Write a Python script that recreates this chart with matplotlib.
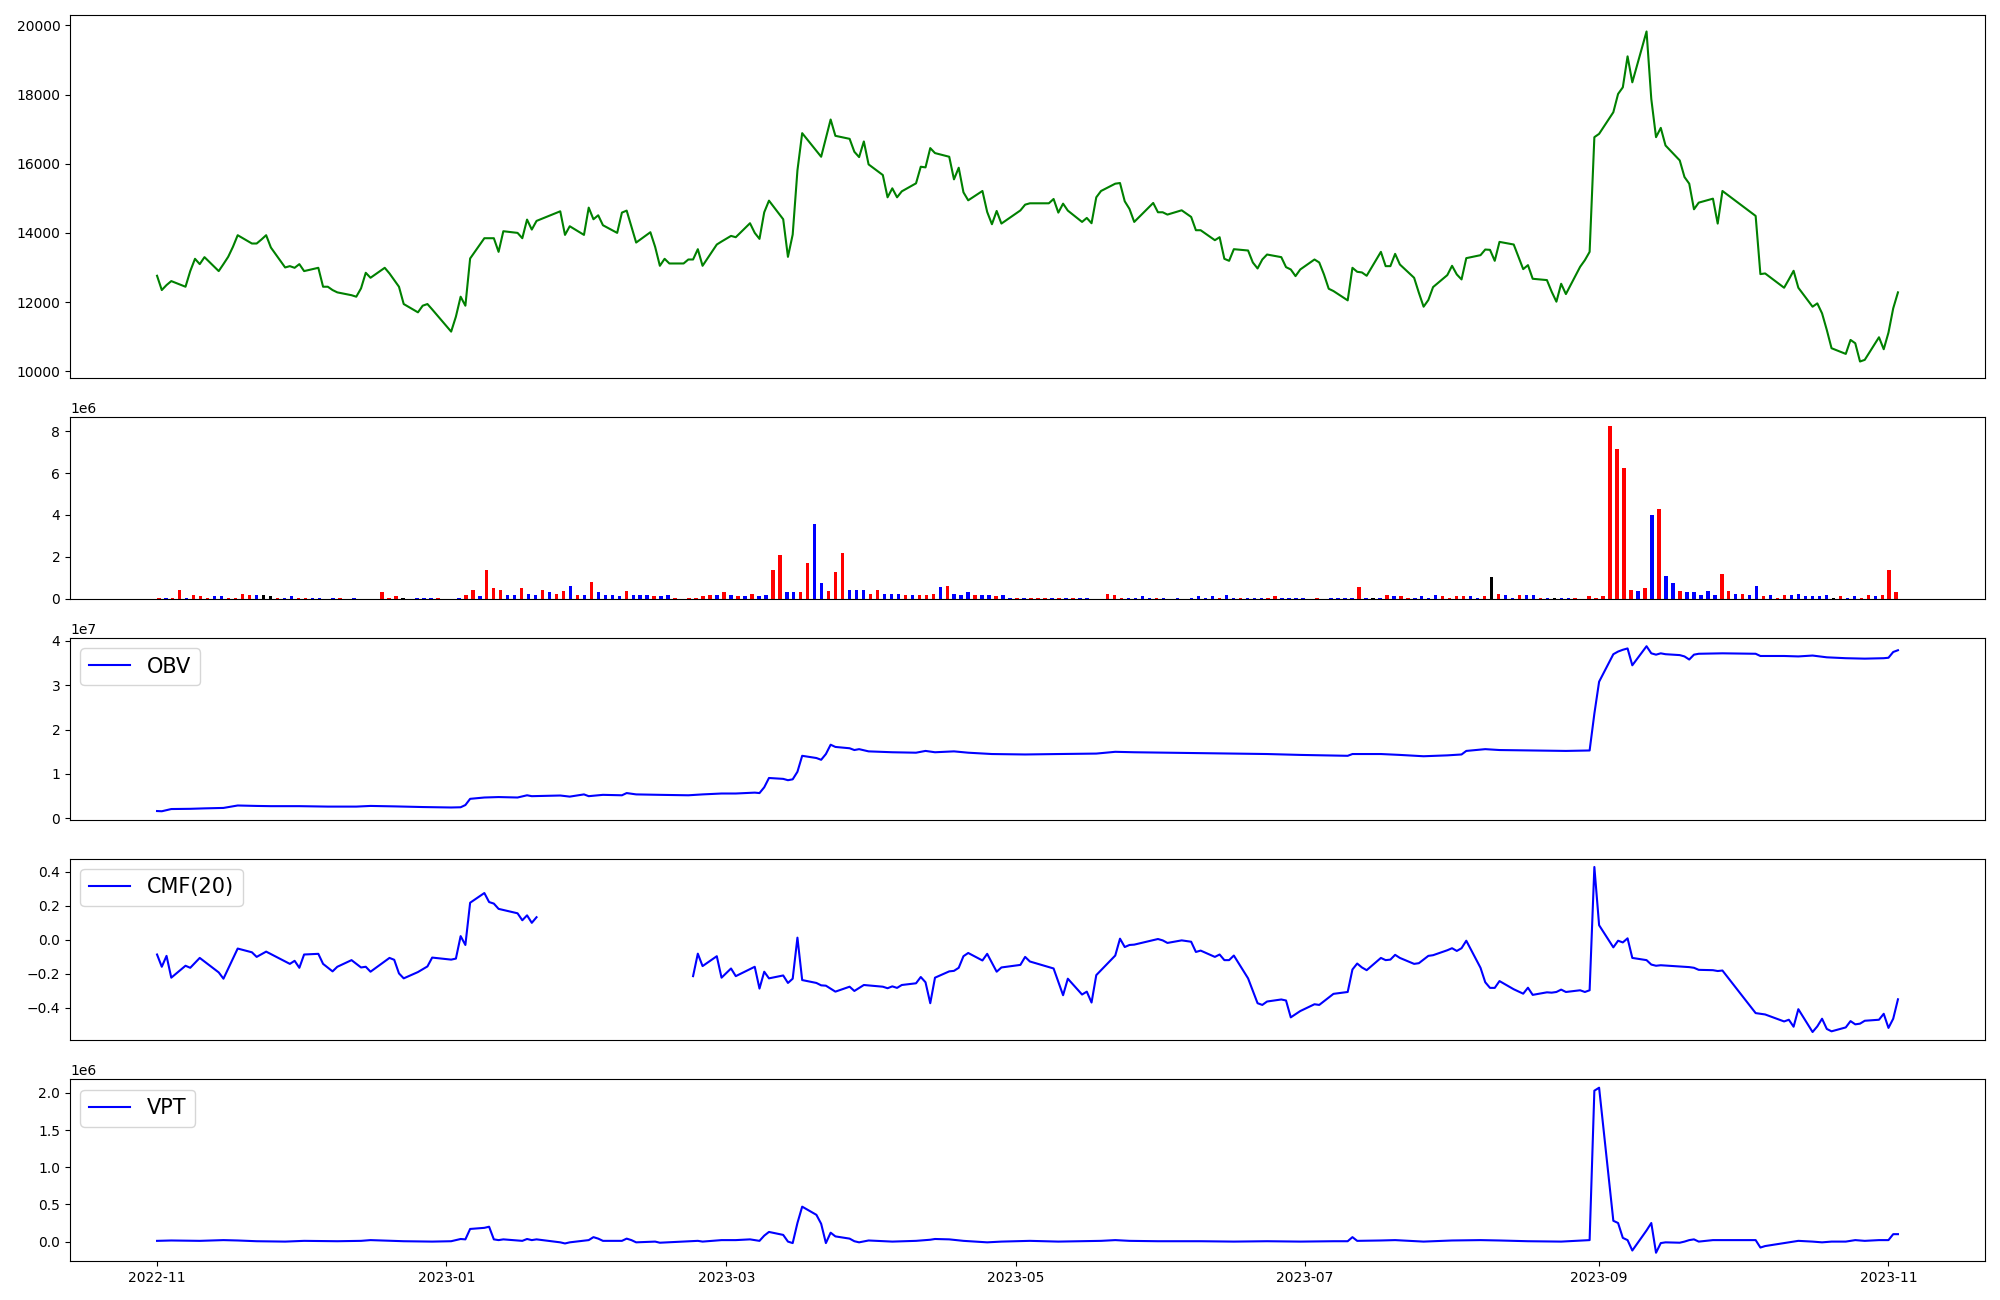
import numpy as np
import pandas as pd
import matplotlib
matplotlib.use("Agg")
import matplotlib.pyplot as plt
import matplotlib.dates as mdates

# Trading calendar: weekdays minus exchange holidays
holidays = ["2022-12-30", "2023-01-23", "2023-01-24", "2023-03-01", "2023-05-01",
            "2023-05-05", "2023-05-29", "2023-06-06", "2023-08-15", "2023-09-28",
            "2023-09-29", "2023-10-02", "2023-10-03", "2023-10-09"]
dates = pd.bdate_range("2022-11-01", "2023-11-03")
dates = dates[~dates.isin(pd.to_datetime(holidays))]

# Close price, one value per trading day
close = [
    # Nov 2022
    12762, 12349, 12493, 12608, 12445, 12897, 13252, 13098, 13300, 12897, 13100,
    13310, 13598, 13934, 13694, 13694, 13809, 13934, 13578, 13002, 13040, 12992,
    # Dec
    13098, 12897, 12992, 12445, 12445, 12349, 12282, 12200, 12157, 12397, 12848,
    12704, 12992, 12829, 12637, 12445, 11945, 11705, 11897, 11945, 11790,
    # Jan 2023
    11148, 11580, 12157, 11897, 13261, 13847, 13847, 13847, 13453, 14049,
    14001, 13847, 14385, 14097, 14347, 14625, 13943, 14193, 13943, 14731,
    # Feb
    14395, 14510, 14222, 14001, 14587, 14645, 14183, 13722, 14020, 13598,
    13050, 13252, 13117, 13117, 13232, 13232, 13530, 13050, 13665, 13751,
    # Mar
    13914, 13876, 14280, 14001, 13828, 14596, 14933, 14395, 13309, 13953, 15807,
    16883, 16374, 16201, 16739, 17277, 16806, 16719, 16345, 16191, 16643, 15980,
    # Apr
    15673, 15029, 15289, 15029, 15202, 15433, 15913, 15894, 16451, 16307,
    16201, 15548, 15884, 15173, 14942, 15212, 14606, 14251, 14635, 14270,
    # May
    14650, 14817, 14856, 14856, 14981, 14587, 14846, 14645, 14318, 14433,
    14280, 15029, 15212, 15423, 15442, 14914, 14693, 14318, 14866, 14597,
    # Jun
    14597, 14530, 14654, 14462, 14078, 14078, 13790, 13876, 13252, 13194, 13530,
    13492, 13146, 12973, 13232, 13376, 13300, 13011, 12944, 12752, 12944,
    # Jul
    13232, 13146, 12800, 12387, 12320, 12051, 12992, 12877, 12858, 12762, 13453,
    13040, 13040, 13395, 13088, 12704, 12272, 11868, 12061, 12435, 12781,
    # Aug
    13050, 12800, 12656, 13271, 13357, 13520, 13511, 13194, 13741, 13665, 12954,
    13069, 12675, 12637, 12301, 12013, 12531, 12233, 13021, 13213, 13453, 16767,
    # Sep
    16863, 17488, 18016, 18208, 19102, 18352, 19822, 17872, 16767, 17036,
    16527, 16095, 15615, 15423, 14683, 14875, 14990, 14270, 15212,
    # Oct
    14491, 12810, 12829, 12416, 12656, 12906, 12416, 11868, 11964, 11676,
    11196, 10668, 10504, 10908, 10812, 10284, 10332, 10985, 10639,
    # Nov
    11119, 11820, 12282,
]

# Volume in millions of shares, one bar per trading day
volume_m = [
    0.05, 0.05, 0.05, 0.44, 0.05, 0.16, 0.11, 0.06, 0.11, 0.11,
    0.06, 0.06, 0.25, 0.20, 0.16, 0.16, 0.11, 0.06, 0.06, 0.11,
    0.06, 0.06, 0.06, 0.06, 0.01, 0.06, 0.06, 0.01, 0.06, 0.01,
    0.01, 0.01, 0.30, 0.06, 0.11, 0.06, 0.01, 0.06, 0.06, 0.06,
    0.06, 0.01, 0.01, 0.06, 0.16, 0.40, 0.11, 1.35, 0.49, 0.40,
    0.16, 0.16, 0.49, 0.25, 0.16, 0.44, 0.30, 0.25, 0.35, 0.59,
    0.16, 0.16, 0.78, 0.30, 0.16, 0.16, 0.11, 0.35, 0.20, 0.16,
    0.16, 0.11, 0.11, 0.16, 0.06, 0.01, 0.06, 0.06, 0.11, 0.16,
    0.16, 0.30, 0.16, 0.11, 0.11, 0.25, 0.11, 0.16, 1.35, 2.11,
    0.30, 0.30, 0.30, 1.73, 3.59, 0.73, 0.35, 1.30, 2.16, 0.44,
    0.44, 0.40, 0.25, 0.40, 0.25, 0.25, 0.25, 0.16, 0.20, 0.20,
    0.20, 0.25, 0.54, 0.59, 0.25, 0.20, 0.30, 0.20, 0.16, 0.16,
    0.11, 0.16, 0.06, 0.06, 0.06, 0.06, 0.06, 0.06, 0.06, 0.06,
    0.06, 0.06, 0.06, 0.06, 0.01, 0.01, 0.25, 0.16, 0.06, 0.06,
    0.06, 0.11, 0.06, 0.06, 0.06, 0.01, 0.06, 0.01, 0.06, 0.11,
    0.06, 0.11, 0.06, 0.16, 0.06, 0.06, 0.06, 0.06, 0.06, 0.06,
    0.11, 0.06, 0.06, 0.06, 0.06, 0.01, 0.06, 0.01, 0.06, 0.06,
    0.06, 0.06, 0.54, 0.06, 0.06, 0.06, 0.16, 0.11, 0.11, 0.06,
    0.06, 0.11, 0.06, 0.16, 0.11, 0.06, 0.11, 0.11, 0.11, 0.06,
    0.11, 1.02, 0.25, 0.16, 0.06, 0.20, 0.20, 0.16, 0.06, 0.06,
    0.06, 0.06, 0.06, 0.06, 0.01, 0.11, 0.06, 0.11, 8.25, 7.16,
    6.25, 0.40, 0.35, 0.49, 4.02, 4.30, 1.11, 0.73, 0.35, 0.30,
    0.30, 0.20, 0.35, 0.20, 1.16, 0.35, 0.25, 0.25, 0.16, 0.59,
    0.11, 0.16, 0.06, 0.16, 0.16, 0.25, 0.11, 0.11, 0.11, 0.16,
    0.06, 0.11, 0.06, 0.11, 0.06, 0.16, 0.11, 0.16, 1.35, 0.30,
]

# Candle direction per day (10 days per chunk): u = up, d = down, f = flat
candle_chunks = [
    "uduuduuudd", "uuuudffudd", "uuddududdu", "duuuufdddd", "uudduuduuu",
    "ddudduduud", "ududdddudd", "dudduduuuu", "dudududduu", "dduudduuud",
    "dduudddudu", "uududddudd", "udduduuudu", "dudduduuud", "dddudududd",
    "dduddudddu", "udddduuddd", "ddudfduduu", "dddduuuudd", "ufudduddud",
    "fdduuuuuuu", "uudududdud", "dddduududd", "uduudddddd", "fudduuduuu",
]
candle = "".join(candle_chunks)

# On-balance volume (x 1e7)
obv_dates = ["2022-11-01", "2022-11-02", "2022-11-04", "2022-11-08", "2022-11-11", "2022-11-15",
             "2022-11-18", "2022-11-22", "2022-11-25", "2022-12-01", "2022-12-07", "2022-12-13",
             "2022-12-16", "2022-12-21", "2022-12-27", "2023-01-02", "2023-01-04", "2023-01-05",
             "2023-01-06", "2023-01-09", "2023-01-12", "2023-01-16", "2023-01-18", "2023-01-19",
             "2023-01-25", "2023-01-27", "2023-01-30", "2023-01-31", "2023-02-03", "2023-02-07",
             "2023-02-08", "2023-02-10", "2023-02-15", "2023-02-21", "2023-02-24", "2023-02-28",
             "2023-03-03", "2023-03-07", "2023-03-08", "2023-03-09", "2023-03-10", "2023-03-13",
             "2023-03-14", "2023-03-15", "2023-03-16", "2023-03-17", "2023-03-20", "2023-03-21",
             "2023-03-22", "2023-03-23", "2023-03-24", "2023-03-27", "2023-03-28", "2023-03-29",
             "2023-03-31", "2023-04-05", "2023-04-10", "2023-04-12", "2023-04-14", "2023-04-18",
             "2023-04-21", "2023-04-26", "2023-05-03", "2023-05-10", "2023-05-18", "2023-05-22",
             "2023-05-26", "2023-06-02", "2023-06-09", "2023-06-16", "2023-06-23", "2023-06-30",
             "2023-07-10", "2023-07-11", "2023-07-17", "2023-07-21", "2023-07-26", "2023-07-31",
             "2023-08-03", "2023-08-04", "2023-08-08", "2023-08-11", "2023-08-18", "2023-08-25",
             "2023-08-30", "2023-08-31", "2023-09-01", "2023-09-04", "2023-09-05", "2023-09-06",
             "2023-09-07", "2023-09-08", "2023-09-11", "2023-09-12", "2023-09-13", "2023-09-14",
             "2023-09-15", "2023-09-18", "2023-09-19", "2023-09-20", "2023-09-21", "2023-09-22",
             "2023-09-27", "2023-10-04", "2023-10-05", "2023-10-10", "2023-10-13", "2023-10-16",
             "2023-10-19", "2023-10-23", "2023-10-27", "2023-10-31", "2023-11-01", "2023-11-02",
             "2023-11-03"]
obv_e7 = [0.165, 0.160, 0.210, 0.215, 0.225, 0.235,
          0.290, 0.280, 0.275, 0.275, 0.265, 0.265,
          0.280, 0.270, 0.255, 0.245, 0.250, 0.300,
          0.440, 0.470, 0.480, 0.470, 0.520, 0.500,
          0.515, 0.490, 0.540, 0.500, 0.530, 0.520,
          0.570, 0.540, 0.530, 0.520, 0.540, 0.560,
          0.560, 0.580, 0.570, 0.700, 0.910, 0.890,
          0.860, 0.880, 1.050, 1.410, 1.360, 1.320,
          1.450, 1.660, 1.610, 1.580, 1.540, 1.560,
          1.510, 1.490, 1.480, 1.520, 1.490, 1.510,
          1.480, 1.450, 1.440, 1.450, 1.460, 1.500,
          1.490, 1.480, 1.470, 1.460, 1.450, 1.430,
          1.410, 1.450, 1.450, 1.430, 1.400, 1.420,
          1.440, 1.520, 1.560, 1.540, 1.530, 1.520,
          1.530, 2.360, 3.080, 3.700, 3.760, 3.800,
          3.830, 3.450, 3.880, 3.720, 3.690, 3.720,
          3.700, 3.680, 3.650, 3.580, 3.690, 3.710,
          3.720, 3.710, 3.660, 3.660, 3.650, 3.670,
          3.630, 3.610, 3.600, 3.610, 3.620, 3.750,
          3.790]

# Chaikin money flow (20); NaN marks the gap in the series
cmf_dates = ["2022-11-01", "2022-11-02", "2022-11-03", "2022-11-04", "2022-11-07", "2022-11-08",
             "2022-11-10", "2022-11-14", "2022-11-15", "2022-11-18", "2022-11-21", "2022-11-22",
             "2022-11-24", "2022-11-29", "2022-11-30", "2022-12-01", "2022-12-02", "2022-12-05",
             "2022-12-06", "2022-12-08", "2022-12-09", "2022-12-12", "2022-12-14", "2022-12-15",
             "2022-12-16", "2022-12-20", "2022-12-21", "2022-12-22", "2022-12-23", "2022-12-26",
             "2022-12-28", "2022-12-29", "2023-01-02", "2023-01-03", "2023-01-04", "2023-01-05",
             "2023-01-06", "2023-01-09", "2023-01-10", "2023-01-11", "2023-01-12", "2023-01-16",
             "2023-01-17", "2023-01-18", "2023-01-19", "2023-01-20", "2023-01-25",
             "2023-02-22", "2023-02-23", "2023-02-24", "2023-02-27", "2023-02-28", "2023-03-02",
             "2023-03-03", "2023-03-07", "2023-03-08", "2023-03-09", "2023-03-10", "2023-03-13",
             "2023-03-14", "2023-03-15", "2023-03-16", "2023-03-17", "2023-03-20", "2023-03-21",
             "2023-03-22", "2023-03-24", "2023-03-27", "2023-03-28", "2023-03-30", "2023-04-03",
             "2023-04-04", "2023-04-05", "2023-04-06", "2023-04-07", "2023-04-10", "2023-04-11",
             "2023-04-12", "2023-04-13", "2023-04-14", "2023-04-17", "2023-04-18", "2023-04-19",
             "2023-04-20", "2023-04-21", "2023-04-24", "2023-04-25", "2023-04-27", "2023-04-28",
             "2023-05-02", "2023-05-03", "2023-05-04", "2023-05-09", "2023-05-11", "2023-05-12",
             "2023-05-15", "2023-05-16", "2023-05-17", "2023-05-18", "2023-05-22", "2023-05-23",
             "2023-05-24", "2023-05-25", "2023-05-26", "2023-05-31", "2023-06-01", "2023-06-02",
             "2023-06-05", "2023-06-07", "2023-06-08", "2023-06-09", "2023-06-12", "2023-06-13",
             "2023-06-14", "2023-06-15", "2023-06-16", "2023-06-19", "2023-06-21", "2023-06-22",
             "2023-06-23", "2023-06-26", "2023-06-27", "2023-06-28", "2023-06-30", "2023-07-03",
             "2023-07-04", "2023-07-07", "2023-07-10", "2023-07-11", "2023-07-12", "2023-07-13",
             "2023-07-14", "2023-07-17", "2023-07-18", "2023-07-19", "2023-07-20", "2023-07-21",
             "2023-07-24", "2023-07-25", "2023-07-27", "2023-07-28", "2023-07-31", "2023-08-01",
             "2023-08-02", "2023-08-03", "2023-08-04", "2023-08-07", "2023-08-08", "2023-08-09",
             "2023-08-10", "2023-08-11", "2023-08-14", "2023-08-16", "2023-08-17", "2023-08-18",
             "2023-08-21", "2023-08-22", "2023-08-23", "2023-08-24", "2023-08-25", "2023-08-28",
             "2023-08-29", "2023-08-30", "2023-08-31", "2023-09-01", "2023-09-04", "2023-09-05",
             "2023-09-06", "2023-09-07", "2023-09-08", "2023-09-11", "2023-09-12", "2023-09-13",
             "2023-09-14", "2023-09-20", "2023-09-21", "2023-09-22", "2023-09-25", "2023-09-26",
             "2023-09-27", "2023-10-04", "2023-10-06", "2023-10-10", "2023-10-11", "2023-10-12",
             "2023-10-13", "2023-10-16", "2023-10-17", "2023-10-18", "2023-10-19", "2023-10-20",
             "2023-10-23", "2023-10-24", "2023-10-25", "2023-10-26", "2023-10-27", "2023-10-30",
             "2023-10-31", "2023-11-01", "2023-11-02", "2023-11-03"]
cmf = [-0.087, -0.159, -0.095, -0.223, -0.153, -0.165,
       -0.107, -0.192, -0.229, -0.052, -0.074, -0.101,
       -0.070, -0.142, -0.124, -0.165, -0.087, -0.083,
       -0.142, -0.186, -0.159, -0.120, -0.163, -0.159,
       -0.188, -0.107, -0.118, -0.198, -0.227, -0.190,
       -0.157, -0.105, -0.117, -0.111, 0.021, -0.031,
       0.217, 0.274, 0.221, 0.212, 0.181, 0.155,
       0.114, 0.143, 0.099, 0.132, np.nan,
       -0.214, -0.082, -0.155, -0.097, -0.223, -0.169,
       -0.214, -0.159, -0.287, -0.188, -0.227, -0.210,
       -0.254, -0.229, 0.012, -0.237, -0.254, -0.268,
       -0.270, -0.305, -0.276, -0.301, -0.266, -0.276,
       -0.285, -0.274, -0.283, -0.266, -0.256, -0.219,
       -0.250, -0.373, -0.223, -0.186, -0.183, -0.165,
       -0.097, -0.078, -0.122, -0.083, -0.188, -0.163,
       -0.148, -0.101, -0.128, -0.169, -0.326, -0.229,
       -0.322, -0.305, -0.369, -0.208, -0.093, 0.006,
       -0.043, -0.031, -0.029, 0.004, -0.004, -0.019,
       -0.004, -0.012, -0.072, -0.064, -0.101, -0.087,
       -0.120, -0.120, -0.093, -0.227, -0.373, -0.383,
       -0.363, -0.351, -0.357, -0.456, -0.419, -0.379,
       -0.383, -0.318, -0.307, -0.175, -0.140, -0.163,
       -0.179, -0.107, -0.120, -0.117, -0.089, -0.107,
       -0.142, -0.138, -0.095, -0.091, -0.062, -0.050,
       -0.066, -0.050, -0.006, -0.165, -0.250, -0.283,
       -0.283, -0.243, -0.291, -0.317, -0.282, -0.324,
       -0.309, -0.311, -0.307, -0.293, -0.307, -0.297,
       -0.307, -0.297, 0.427, 0.085, -0.045, -0.006,
       -0.016, 0.008, -0.107, -0.120, -0.146, -0.153,
       -0.150, -0.161, -0.165, -0.177, -0.179, -0.184,
       -0.181, -0.431, -0.439, -0.480, -0.470, -0.511,
       -0.408, -0.542, -0.509, -0.464, -0.524, -0.538,
       -0.515, -0.478, -0.497, -0.493, -0.476, -0.470,
       -0.435, -0.518, -0.464, -0.350]

# Volume price trend (x 1e6)
vpt_dates = ["2022-11-01", "2022-11-04", "2022-11-10", "2022-11-15", "2022-11-18", "2022-11-22",
             "2022-11-28", "2022-12-02", "2022-12-09", "2022-12-14", "2022-12-16", "2022-12-23",
             "2022-12-29", "2023-01-02", "2023-01-04", "2023-01-05", "2023-01-06", "2023-01-09",
             "2023-01-10", "2023-01-11", "2023-01-12", "2023-01-13", "2023-01-17", "2023-01-18",
             "2023-01-19", "2023-01-20", "2023-01-25", "2023-01-26", "2023-01-27", "2023-01-31",
             "2023-02-01", "2023-02-02", "2023-02-03", "2023-02-07", "2023-02-08", "2023-02-09",
             "2023-02-10", "2023-02-14", "2023-02-15", "2023-02-20", "2023-02-23", "2023-02-24",
             "2023-02-28", "2023-03-03", "2023-03-06", "2023-03-08", "2023-03-09", "2023-03-10",
             "2023-03-13", "2023-03-14", "2023-03-15", "2023-03-16", "2023-03-17", "2023-03-20",
             "2023-03-21", "2023-03-22", "2023-03-23", "2023-03-24", "2023-03-27", "2023-03-28",
             "2023-03-29", "2023-03-31", "2023-04-05", "2023-04-10", "2023-04-13", "2023-04-14",
             "2023-04-17", "2023-04-20", "2023-04-25", "2023-04-28", "2023-05-04", "2023-05-10",
             "2023-05-15", "2023-05-19", "2023-05-22", "2023-05-25", "2023-05-31", "2023-06-09",
             "2023-06-16", "2023-06-23", "2023-06-30", "2023-07-07", "2023-07-10", "2023-07-11",
             "2023-07-12", "2023-07-17", "2023-07-20", "2023-07-26", "2023-08-01", "2023-08-07",
             "2023-08-11", "2023-08-17", "2023-08-24", "2023-08-30", "2023-08-31", "2023-09-01",
             "2023-09-04", "2023-09-05", "2023-09-06", "2023-09-07", "2023-09-08", "2023-09-11",
             "2023-09-12", "2023-09-13", "2023-09-14", "2023-09-15", "2023-09-18", "2023-09-19",
             "2023-09-20", "2023-09-21", "2023-09-22", "2023-09-25", "2023-09-27", "2023-10-04",
             "2023-10-05", "2023-10-06", "2023-10-10", "2023-10-12", "2023-10-13", "2023-10-16",
             "2023-10-18", "2023-10-20", "2023-10-23", "2023-10-25", "2023-10-27", "2023-10-30",
             "2023-10-31", "2023-11-01", "2023-11-02", "2023-11-03"]
vpt_e6 = [0.010, 0.015, 0.010, 0.020, 0.015, 0.005,
          0.000, 0.010, 0.005, 0.010, 0.020, 0.005,
          0.000, 0.005, 0.035, 0.030, 0.170, 0.185,
          0.200, 0.030, 0.020, 0.030, 0.010, 0.035,
          0.020, 0.030, -0.010, -0.025, -0.010, 0.020,
          0.060, 0.040, 0.010, 0.010, 0.040, 0.020,
          -0.010, 0.000, -0.015, 0.000, 0.010, 0.000,
          0.020, 0.020, 0.030, 0.010, 0.080, 0.130,
          0.090, 0.000, -0.020, 0.250, 0.470, 0.360,
          0.240, -0.020, 0.120, 0.070, 0.040, 0.005,
          -0.010, 0.015, 0.000, 0.010, 0.025, 0.035,
          0.030, 0.010, -0.010, 0.000, 0.010, 0.000,
          0.005, 0.010, 0.020, 0.010, 0.005, 0.005,
          0.000, 0.005, 0.000, 0.005, 0.005, 0.060,
          0.010, 0.015, 0.020, 0.000, 0.015, 0.020,
          0.015, 0.005, 0.000, 0.020, 2.030, 2.070,
          0.280, 0.250, 0.050, 0.020, -0.120, 0.150,
          0.250, -0.150, -0.020, -0.010, -0.015, 0.000,
          0.020, 0.030, 0.000, 0.020, 0.020, 0.020,
          -0.080, -0.060, -0.020, 0.000, 0.010, 0.000,
          -0.010, 0.000, 0.000, 0.020, 0.010, 0.020,
          0.020, 0.020, 0.100, 0.100]

assert len(close) == len(dates) == len(volume_m) == len(candle)

fig = plt.figure(figsize=(20, 13))
gs = fig.add_gridspec(5, 1, height_ratios=[2, 1, 1, 1, 1], left=0.035, right=0.9925,
                      top=0.9885, bottom=0.03, hspace=0.18)
ax_price = fig.add_subplot(gs[0])
ax_vol = fig.add_subplot(gs[1])
ax_obv = fig.add_subplot(gs[2], sharex=ax_price)
ax_cmf = fig.add_subplot(gs[3], sharex=ax_price)
ax_vpt = fig.add_subplot(gs[4], sharex=ax_price)

# price
ax_price.plot(dates, close, color="green", lw=1.5)

# volume bars, coloured by candle direction
colour_map = {"u": "red", "d": "blue", "f": "black"}
bar_colours = [colour_map[c] for c in candle]
ax_vol.bar(np.arange(len(volume_m)), np.array(volume_m) * 1e6, width=0.5, color=bar_colours)
ax_vol.set_xticks([])

ax_obv.plot(pd.to_datetime(obv_dates), np.array(obv_e7) * 1e7, color="blue", lw=1.5, label="OBV")
ax_obv.legend(loc="upper left", fontsize=15)

ax_cmf.plot(pd.to_datetime(cmf_dates), cmf, color="blue", lw=1.5, label="CMF(20)")
ax_cmf.legend(loc="upper left", fontsize=15)

ax_vpt.plot(pd.to_datetime(vpt_dates), np.array(vpt_e6) * 1e6, color="blue", lw=1.5, label="VPT")
ax_vpt.legend(loc="upper left", fontsize=15)

for ax in (ax_price, ax_obv, ax_cmf):
    ax.tick_params(axis="x", bottom=False, labelbottom=False)

ax_vpt.xaxis.set_major_locator(mdates.MonthLocator(bymonth=[1, 3, 5, 7, 9, 11]))
ax_vpt.xaxis.set_major_formatter(mdates.DateFormatter("%Y-%m"))

plt.savefig("out.png", dpi=100)
